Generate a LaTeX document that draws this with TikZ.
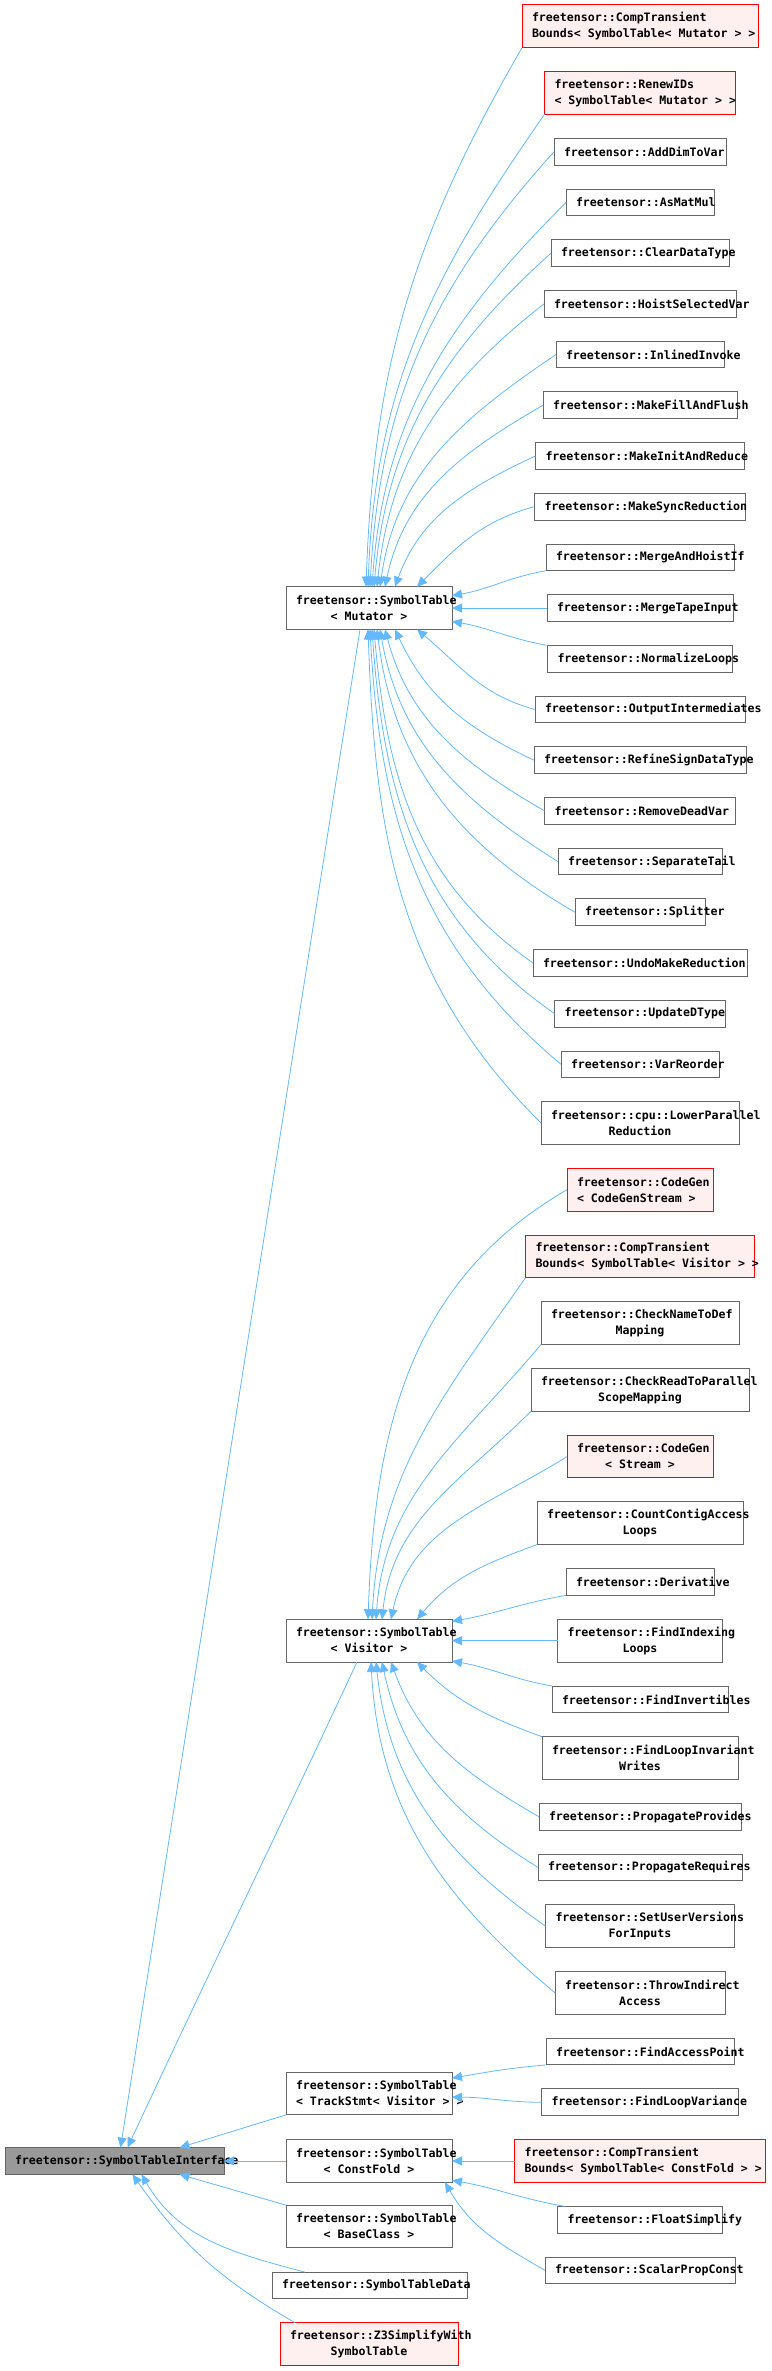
\documentclass[tikz,border=0pt]{standalone}
\usepackage{fontspec}
\usepackage{tikz}
\usetikzlibrary{arrows.meta,positioning}
\newfontfamily\dxfont{DejaVu Sans Mono}[HyphenChar=None]
\newcommand{\tsp}{\hbox to 0.602em{}}
\definecolor{boxgray}{HTML}{666666}
\definecolor{edgeblue}{HTML}{63B8FF}
\definecolor{pinkbg}{HTML}{FFF0F0}
\definecolor{rootgray}{HTML}{999999}

\begin{document}
\begin{tikzpicture}[x=1pt, y=1pt, node distance=24pt,
        cls/.style={rectangle, draw=boxgray, fill=white, line width=1pt, inner xsep=10pt, inner ysep=0pt, outer sep=0pt,
            minimum height=26.7pt, align=center, font=\dxfont\bfseries\fontsize{11.6pt}{16pt}\selectfont},
        dbl/.style={minimum height=42.7pt},
        trunc/.style={draw=red, fill=pinkbg},
        root/.style={fill=rootgray},
        edge/.style={draw=edgeblue, line width=0.8pt, -{Triangle[length=10pt,width=9pt]}}]

        \useasboundingbox (0,0) rectangle (771,-2371);

        \node[cls, dbl, trunc, align=left, text width=216pt] (cta) at (640,-26.35) {freetensor::CompTransient\\Bounds<\tsp SymbolTable<\tsp Mutator\tsp >\tsp >};
        \node[cls, dbl, trunc, align=left, text width=171pt, below=of cta] (renew) {freetensor::RenewIDs\\<\tsp SymbolTable<\tsp Mutator\tsp >\tsp >};
        \node[cls, text width=152pt, below=of renew] (adddim) {freetensor::AddDimToVar};
        \node[cls, text width=128pt, below=of adddim] (asmat) {freetensor::AsMatMul};
        \node[cls, text width=158pt, below=of asmat] (clear) {freetensor::ClearDataType};
        \node[cls, text width=172pt, below=of clear] (hoist) {freetensor::HoistSelectedVar};
        \node[cls, text width=148pt, below=of hoist] (inlined) {freetensor::InlinedInvoke};
        \node[cls, text width=174pt, below=of inlined] (fill) {freetensor::MakeFillAndFlush};
        \node[cls, text width=189pt, below=of fill] (initred) {freetensor::MakeInitAndReduce};
        \node[cls, text width=191pt, below=of initred] (sync) {freetensor::MakeSyncReduction};
        \node[cls, text width=168pt, below=of sync] (hoistif) {freetensor::MergeAndHoistIf};
        \node[cls, text width=166pt, below=of hoistif] (tape) {freetensor::MergeTapeInput};
        \node[cls, text width=165pt, below=of tape] (normloops) {freetensor::NormalizeLoops};
        \node[cls, text width=190pt, below=of normloops] (outinter) {freetensor::OutputIntermediates};
        \node[cls, text width=192pt, below=of outinter] (refine) {freetensor::RefineSignDataType};
        \node[cls, text width=171pt, below=of refine] (deadvar) {freetensor::RemoveDeadVar};
        \node[cls, text width=144pt, below=of deadvar] (septail) {freetensor::SeparateTail};
        \node[cls, text width=110pt, below=of septail] (splitter) {freetensor::Splitter};
        \node[cls, text width=194pt, below=of splitter] (undo) {freetensor::UndoMakeReduction};
        \node[cls, text width=151pt, below=of undo] (updtype) {freetensor::UpdateDType};
        \node[cls, text width=138pt, below=of updtype] (reorder) {freetensor::VarReorder};
        \node[cls, dbl, text width=178pt, below=of reorder] (lowerpar) {freetensor::cpu::LowerParallel\\Reduction};

        \node[cls, dbl, trunc, align=left, text width=126pt, below=of lowerpar] (cgs) {freetensor::CodeGen\\<\tsp CodeGenStream\tsp >};
        \node[cls, dbl, trunc, align=left, text width=209pt, below=of cgs] (ctv) {freetensor::CompTransient\\Bounds<\tsp SymbolTable<\tsp Visitor\tsp >\tsp >};
        \node[cls, dbl, text width=178pt, below=of ctv] (namedef) {freetensor::CheckNameToDef\\Mapping};
        \node[cls, dbl, text width=198pt, below=of namedef] (readpar) {freetensor::CheckReadToParallel\\ScopeMapping};
        \node[cls, dbl, trunc, text width=126pt, below=of readpar] (cgstream) {freetensor::CodeGen\\<\tsp Stream\tsp >};
        \node[cls, dbl, text width=186pt, below=of cgstream] (contig) {freetensor::CountContigAccess\\Loops};
        \node[cls, text width=128pt, below=of contig] (deriv) {freetensor::Derivative};
        \node[cls, dbl, text width=145pt, below=of deriv] (findidx) {freetensor::FindIndexing\\Loops};
        \node[cls, text width=156pt, below=of findidx] (findinv) {freetensor::FindInvertibles};
        \node[cls, dbl, text width=176pt, below=of findinv] (loopinv) {freetensor::FindLoopInvariant\\Writes};
        \node[cls, text width=182pt, below=of loopinv] (propprov) {freetensor::PropagateProvides};
        \node[cls, text width=184pt, below=of propprov] (propreq) {freetensor::PropagateRequires};
        \node[cls, dbl, text width=169pt, below=of propreq] (userver) {freetensor::SetUserVersions\\ForInputs};
        \node[cls, dbl, text width=150pt, below=of userver] (throwind) {freetensor::ThrowIndirect\\Access};

        \node[cls, text width=168pt, below=of throwind] (accpoint) {freetensor::FindAccessPoint};
        \node[cls, text width=177pt, below=of accpoint] (loopvar) {freetensor::FindLoopVariance};
        \node[cls, dbl, trunc, align=left, text width=231pt, below=of loopvar] (ctcf) {freetensor::CompTransient\\Bounds<\tsp SymbolTable<\tsp ConstFold\tsp >\tsp >};
        \node[cls, text width=145pt, below=of ctcf] (fsimp) {freetensor::FloatSimplify};
        \node[cls, text width=170pt, below=of fsimp] (scalar) {freetensor::ScalarPropConst};

        \node[cls, dbl, text width=146pt] (mut) at (369,0 |- tape) {freetensor::SymbolTable\\<\tsp Mutator\tsp >};
        \node[cls, dbl, text width=146pt] (vis) at (369,0 |- findidx) {freetensor::SymbolTable\\<\tsp Visitor\tsp >};
        \node[cls, dbl, align=left, text width=146pt] (track) at (369,-2093.5) {freetensor::SymbolTable\\<\tsp TrackStmt<\tsp Visitor\tsp >\tsp >};
        \node[cls, dbl, text width=146pt] (cf) at (369,0 |- ctcf) {freetensor::SymbolTable\\<\tsp ConstFold\tsp >};
        \node[cls, dbl, text width=146pt] (base) at (369,-2226.5) {freetensor::SymbolTable\\<\tsp BaseClass\tsp >};
        \node[cls, text width=175pt] (stdata) at (369.5,-2285.5) {freetensor::SymbolTableData};
        \node[cls, dbl, trunc, text width=158pt] (z3) at (369,-2344) {freetensor::Z3SimplifyWith\\SymbolTable};
        \node[cls, root, text width=199pt] (iface) at (114.5,0 |- cf) {freetensor::SymbolTableInterface};

        \draw[edge] (cta.south west) to[out=240,in=88] ([xshift=-3pt]mut.north);
        \draw[edge] (renew.south west) to[out=235,in=88] ([xshift=-1pt]mut.north);
        \draw[edge] (adddim.west) to[out=228,in=87] ([xshift=1pt]mut.north);
        \draw[edge] (asmat.west) to[out=225,in=86] ([xshift=3pt]mut.north);
        \draw[edge] (clear.west) to[out=222,in=85] ([xshift=5pt]mut.north);
        \draw[edge] (hoist.west) to[out=218,in=84] ([xshift=8pt]mut.north);
        \draw[edge] (inlined.west) to[out=214,in=82] ([xshift=11pt]mut.north);
        \draw[edge] (fill.west) to[out=210,in=78] ([xshift=16pt]mut.north);
        \draw[edge] (initred.west) to[out=205,in=70] ([xshift=26pt]mut.north);
        \draw[edge] (sync.west) to[out=195,in=45] ([xshift=-35pt]mut.north east);
        \draw[edge] (hoistif.south west) to[out=190,in=10] ([yshift=-9pt]mut.north east);
        \draw[edge] (tape) -- (mut);
        \draw[edge] (normloops.north west) to[out=170,in=-10] ([yshift=8pt]mut.south east);
        \draw[edge] (outinter.west) to[out=165,in=-40] ([xshift=-35pt]mut.south east);
        \draw[edge] (refine.west) to[out=155,in=-65] ([xshift=26pt]mut.south);
        \draw[edge] (deadvar.west) to[out=150,in=-75] ([xshift=16pt]mut.south);
        \draw[edge] (septail.west) to[out=148,in=-80] ([xshift=11pt]mut.south);
        \draw[edge] (splitter.west) to[out=150,in=-83] ([xshift=8pt]mut.south);
        \draw[edge] (undo.west) to[out=145,in=-85] ([xshift=5pt]mut.south);
        \draw[edge] (updtype.west) to[out=145,in=-86] ([xshift=3pt]mut.south);
        \draw[edge] (reorder.west) to[out=140,in=-87] ([xshift=1pt]mut.south);
        \draw[edge] (lowerpar.west) to[out=135,in=-88] ([xshift=-1pt]mut.south);

        \draw[edge] (cgs.west) to[out=210,in=88] ([xshift=-1pt]vis.north);
        \draw[edge] (ctv.south west) to[out=235,in=87] ([xshift=3pt]vis.north);
        \draw[edge] (namedef.south west) to[out=230,in=86] ([xshift=7pt]vis.north);
        \draw[edge] (readpar.south west) to[out=225,in=84] ([xshift=13pt]vis.north);
        \draw[edge] (cgstream.west) to[out=212,in=78] ([xshift=22pt]vis.north);
        \draw[edge] (contig.south west) to[out=200,in=50] ([xshift=-35pt]vis.north east);
        \draw[edge] (deriv.south west) to[out=190,in=10] ([yshift=-2pt]vis.north east);
        \draw[edge] (findidx) -- (vis);
        \draw[edge] (findinv.north west) to[out=170,in=-10] ([yshift=1pt]vis.south east);
        \draw[edge] (loopinv.north west) to[out=160,in=-45] ([xshift=-35pt]vis.south east);
        \draw[edge] (propprov.west) to[out=150,in=-70] ([xshift=22pt]vis.south);
        \draw[edge] (propreq.west) to[out=148,in=-78] ([xshift=13pt]vis.south);
        \draw[edge] (userver.west) to[out=145,in=-84] ([xshift=7pt]vis.south);
        \draw[edge] (throwind.west) to[out=140,in=-87] ([xshift=2pt]vis.south);

        \draw[edge] (accpoint.south west) to[out=185,in=10] ([yshift=-6pt]track.north east);
        \draw[edge] (loopvar.west) to[out=180,in=0] ([yshift=-25pt]track.north east);
        \draw[edge] (ctcf) -- (cf);
        \draw[edge] ([xshift=7pt]fsimp.north west) to[out=170,in=-10] ([yshift=2pt]cf.south east);
        \draw[edge] (scalar.west) to[out=150,in=-60] ([xshift=-7pt]cf.south east);

        \draw[edge] ([xshift=-9pt]mut.south) -- ([xshift=6pt]iface.north);
        \draw[edge] ([xshift=-12pt]vis.south) to[out=-115,in=65] ([xshift=13pt]iface.north);
        \draw[edge] (track.south west) -- ([xshift=65pt]iface.north);
        \draw[edge] (cf) -- (iface);
        \draw[edge] (base.north west) -- ([xshift=65pt]iface.south);
        \draw[edge] ([xshift=33pt]stdata.north west) to[out=165,in=-60] ([xshift=27pt]iface.south);
        \draw[edge] ([xshift=15pt]z3.north west) to[out=150,in=-55] ([xshift=18pt]iface.south);
    \end{tikzpicture}
\end{document}
